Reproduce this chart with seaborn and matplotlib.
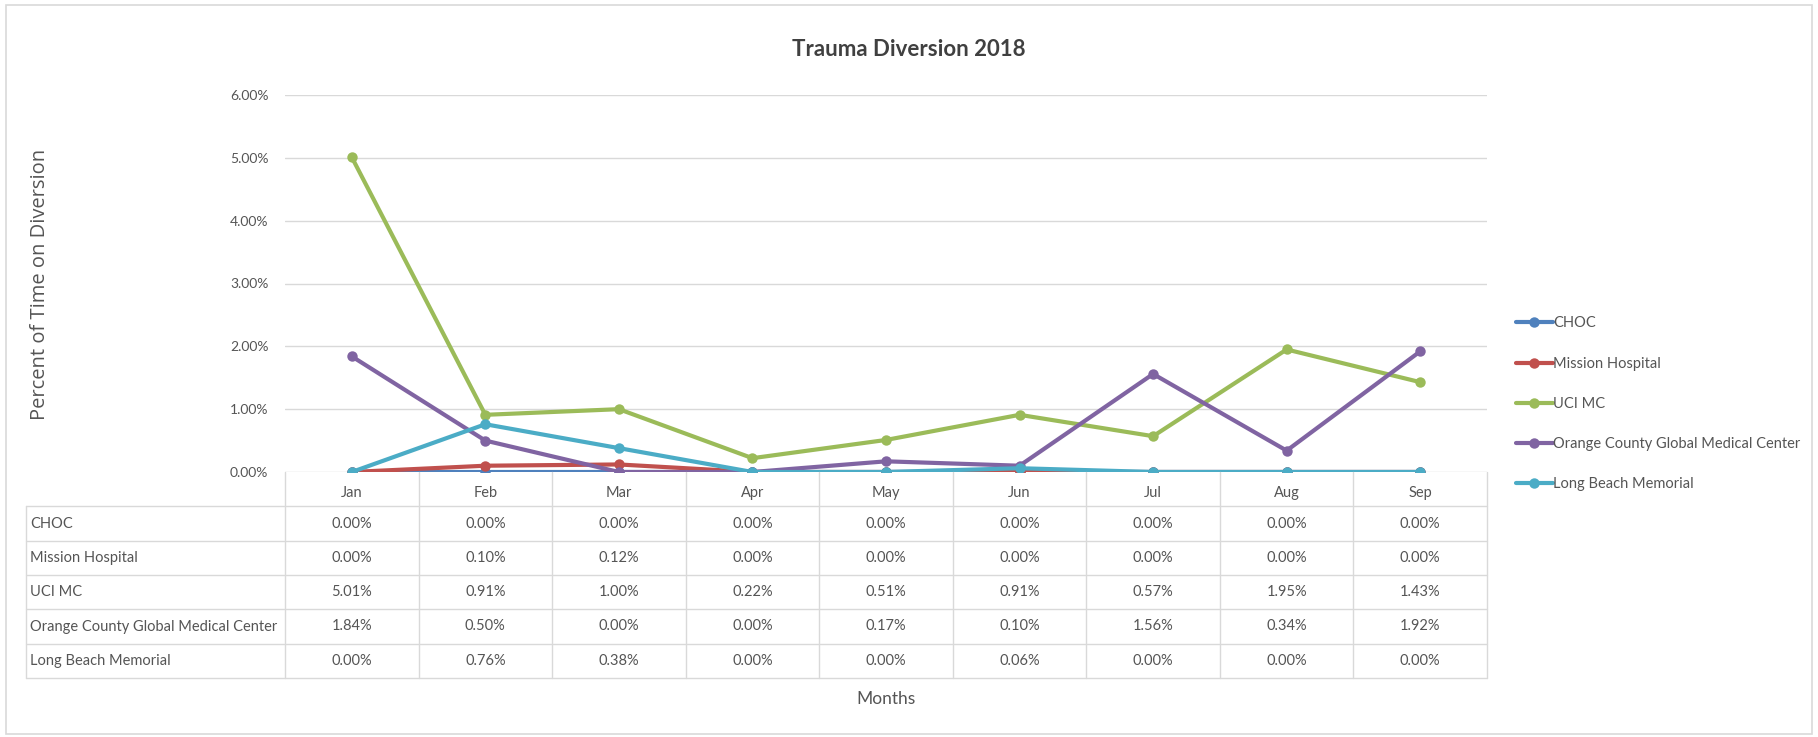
import pandas as pd
import seaborn as sns
import matplotlib.pyplot as plt
from matplotlib.patches import Rectangle

months = ["Jan", "Feb", "Mar", "Apr", "May", "Jun", "Jul", "Aug", "Sep"]
hospitals = ["CHOC", "Mission Hospital", "UCI MC",
             "Orange County Global Medical Center", "Long Beach Memorial"]
choc = [0.00, 0.00, 0.00, 0.00, 0.00, 0.00, 0.00, 0.00, 0.00]
mission = [0.00, 0.10, 0.12, 0.00, 0.00, 0.00, 0.00, 0.00, 0.00]
uci = [5.01, 0.91, 1.00, 0.22, 0.51, 0.91, 0.57, 1.95, 1.43]
ocgmc = [1.84, 0.50, 0.00, 0.00, 0.17, 0.10, 1.56, 0.34, 1.92]
lbm = [0.00, 0.76, 0.38, 0.00, 0.00, 0.06, 0.00, 0.00, 0.00]
colors = ["#4F81BD", "#C0504D", "#9BBB59", "#8064A2", "#4BACC6"]
yticks = [0, 1, 2, 3, 4, 5, 6]

series = [choc, mission, uci, ocgmc, lbm]
rows = []
for name, vals in zip(hospitals, series):
    for i, v in enumerate(vals):
        rows.append({"hospital": name, "idx": i, "month": months[i], "value": v})
df = pd.DataFrame(rows)

sns.set_theme(style="white")
plt.rcParams['font.family'] = ['Lato', 'DejaVu Sans']

W, H = 1818, 737
fig = plt.figure(figsize=(W / 100, H / 100), dpi=100)
fig.patch.set_facecolor("white")
txt = "#555555"

# plot area in pixels
px_l, px_r, px_t, px_b = 285, 1487, 95, 472
ax = fig.add_axes([px_l / W, 1 - px_b / H, (px_r - px_l) / W, (px_b - px_t) / H])

for name, col in zip(hospitals, colors):
    sub = df[df["hospital"] == name]
    sns.lineplot(data=sub, x="idx", y="value", ax=ax, color=col, label=name,
                 linewidth=3, marker="o", markersize=7.5, markeredgewidth=0,
                 sort=False)

ax.set_xlim(-0.5, len(months) - 0.5)
ax.set_ylim(0, 6)
ax.set_yticks(yticks)
ax.set_yticklabels(["%.2f%%" % t for t in yticks], color=txt, fontsize=10)
ax.set_xticks([])
ax.tick_params(axis="y", length=0, pad=12)
ax.yaxis.grid(True, color="#D9D9D9", linewidth=1)
ax.set_axisbelow(True)
for s in ax.spines.values():
    s.set_visible(False)
ax.set_xlabel("")
ax.set_ylabel("")

handles, labels = ax.get_legend_handles_labels()
ax.legend_.remove()
leg = fig.legend(handles, labels, loc="center left",
                 bbox_to_anchor=(1503 / W, 1 - 404 / H), frameon=False,
                 fontsize=10.5, labelspacing=1.8, handlelength=2.5,
                 handletextpad=0.05, labelcolor=txt)

# data table under the plot
tb_l, tb_b = 26, 678
tab = fig.add_axes([tb_l / W, 1 - tb_b / H, (px_r - tb_l) / W, (tb_b - px_b) / H])
step = (px_r - px_l) / len(months)
tab.set_xlim(-0.5 - (px_l - tb_l) / step, len(months) - 0.5)
tab.set_ylim(len(hospitals) + 1, 0)
tab.axis("off")
x0 = tab.get_xlim()[0]
gc = "#D9D9D9"
for r in range(1, len(hospitals) + 2):
    tab.plot([x0, len(months) - 0.5], [r, r], color=gc, lw=1, clip_on=False)
for c in range(len(months) + 1):
    tab.plot([c - 0.5, c - 0.5], [0, len(hospitals) + 1], color=gc, lw=1, clip_on=False)
tab.plot([x0, x0], [1, len(hospitals) + 1], color=gc, lw=1, clip_on=False)
for i, m in enumerate(months):
    tab.text(i, 0.6, m, ha="center", va="center", fontsize=10.5, color=txt)
for r, (name, vals) in enumerate(zip(hospitals, series)):
    tab.text(x0 + 0.03, r + 1.5, name, ha="left", va="center", fontsize=10.5, color=txt)
    for i, v in enumerate(vals):
        tab.text(i, r + 1.5, "%.2f%%" % v, ha="center", va="center", fontsize=10.5, color=txt)

fig.text(909 / W, 1 - 49 / H, "Trauma Diversion 2018", ha="center", va="center",
         fontsize=16, color="#404040", fontweight="bold")
fig.text(40 / W, 1 - 284 / H, "Percent of Time on Diversion", rotation=90,
         ha="center", va="center", fontsize=14.5, color=txt, family=["Open Sans", "DejaVu Sans"])
fig.text(886 / W, 1 - 699 / H, "Months", ha="center", va="center", fontsize=12.5, color=txt)

fig.patches.append(Rectangle((6 / W, 3 / H), 1806 / W, 729 / H, transform=fig.transFigure,
                             fill=False, edgecolor="#D9D9D9", linewidth=1.2))

fig.savefig("out.png", dpi=100)
